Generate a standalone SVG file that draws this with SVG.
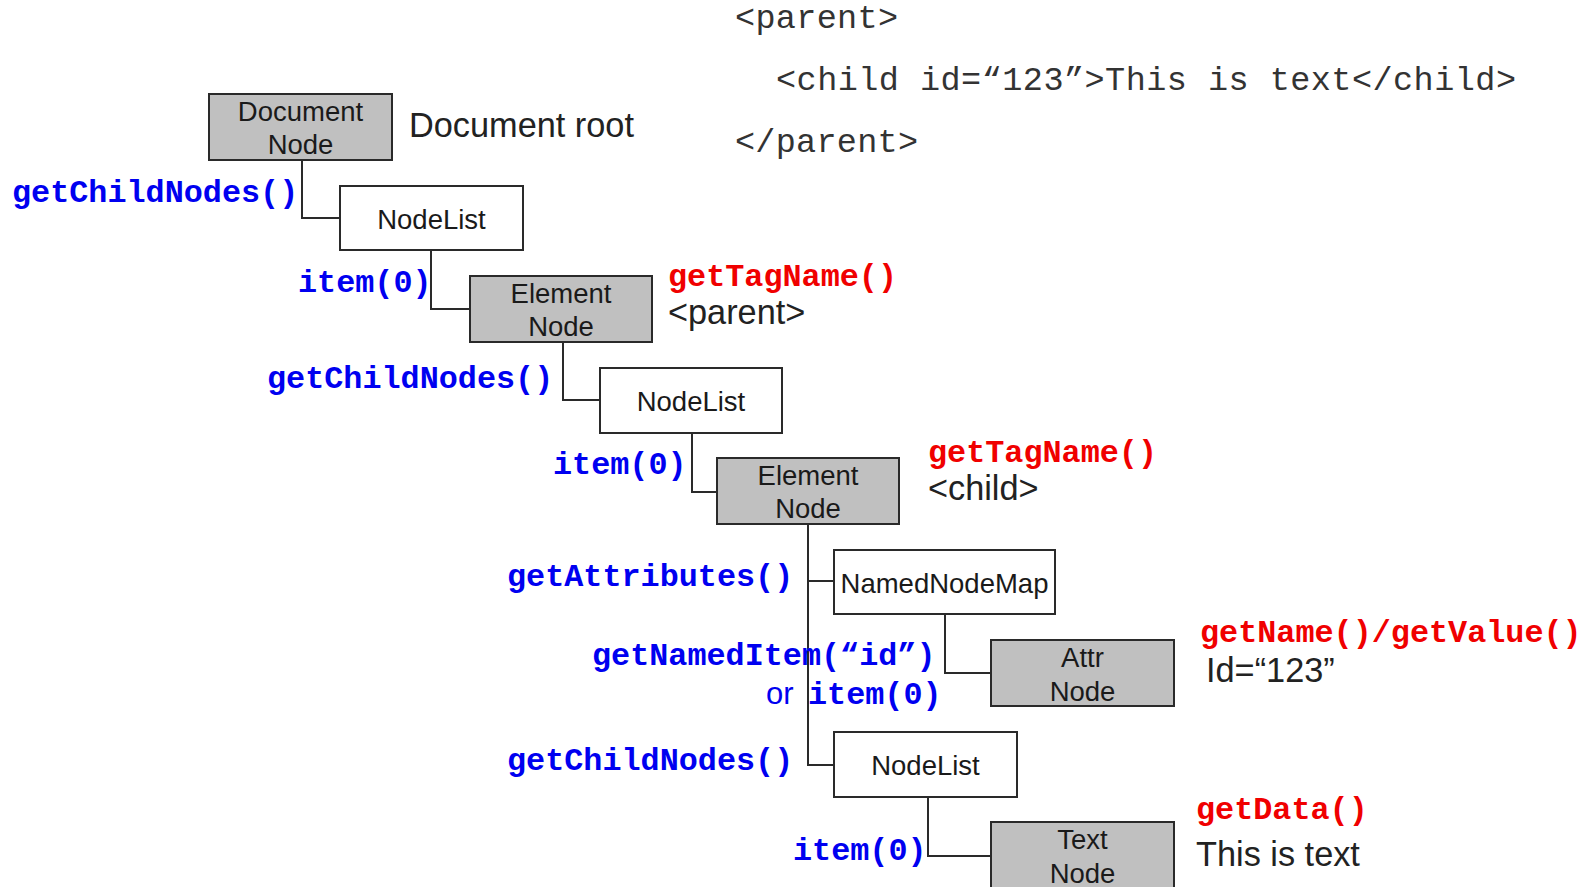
<svg xmlns="http://www.w3.org/2000/svg" width="1585" height="887" viewBox="0 0 1585 887">
  <style>
    .box { stroke: #2a2a2a; stroke-width: 2; }
    .gray { fill: #c0c0c0; }
    .white { fill: #ffffff; }
    .ntxt { font-family: "Liberation Sans", Arial, sans-serif; font-size: 27.5px; fill: #1a1a1a; text-anchor: middle; }
    .wire { fill: none; stroke: #2a2a2a; stroke-width: 2; }
    .code { font-family: "Liberation Mono", "Courier New", monospace; font-size: 33.5px; fill: #333333; }
    .call { font-family: "Liberation Mono", "Courier New", monospace; font-weight: bold; font-size: 31.8px; }
    .blue { fill: #0000f0; }
    .red { fill: #f00000; }
    .note { font-family: "Liberation Sans", Arial, sans-serif; font-size: 34.3px; fill: #222222; }
  </style>

  <rect width="1585" height="887" fill="#ffffff"/>

  <!-- XML source -->
  <g id="source">
    <text class="code" x="735" y="28" textLength="163" lengthAdjust="spacing">&lt;parent&gt;</text>
    <text class="code" x="776" y="90" textLength="740" lengthAdjust="spacing">&lt;child id=“123”&gt;This is text&lt;/child&gt;</text>
    <text class="code" x="735" y="152" textLength="183" lengthAdjust="spacing">&lt;/parent&gt;</text>
  </g>

  <!-- tree connectors -->
  <g id="connectors">
    <path class="wire" d="M302 160 V218 H340"/>
    <path class="wire" d="M431 250 V309 H470"/>
    <path class="wire" d="M563 342 V400 H600"/>
    <path class="wire" d="M692 433 V492 H717"/>
    <path class="wire" d="M808 524 V765 H834"/>
    <path class="wire" d="M808 581 H834"/>
    <path class="wire" d="M945 614 V673 H991"/>
    <path class="wire" d="M928 797 V856 H991"/>
  </g>

  <!-- nodes -->
  <g id="document-node">
    <rect class="box gray" x="209" y="94" width="183" height="66"/>
    <text class="ntxt" x="300.5" y="121">Document</text>
    <text class="ntxt" x="300.5" y="154">Node</text>
  </g>
  <g id="nodelist-1">
    <rect class="box white" x="340" y="186" width="183" height="64"/>
    <text class="ntxt" x="431.5" y="229">NodeList</text>
  </g>
  <g id="element-node-1">
    <rect class="box gray" x="470" y="276" width="182" height="66"/>
    <text class="ntxt" x="561" y="303">Element</text>
    <text class="ntxt" x="561" y="336">Node</text>
  </g>
  <g id="nodelist-2">
    <rect class="box white" x="600" y="368" width="182" height="65"/>
    <text class="ntxt" x="691" y="411">NodeList</text>
  </g>
  <g id="element-node-2">
    <rect class="box gray" x="717" y="458" width="182" height="66"/>
    <text class="ntxt" x="808" y="485">Element</text>
    <text class="ntxt" x="808" y="518">Node</text>
  </g>
  <g id="namednodemap">
    <rect class="box white" x="834" y="550" width="221" height="64"/>
    <text class="ntxt" x="944.5" y="593">NamedNodeMap</text>
  </g>
  <g id="attr-node">
    <rect class="box gray" x="991" y="640" width="183" height="66"/>
    <text class="ntxt" x="1082.5" y="667">Attr</text>
    <text class="ntxt" x="1082.5" y="701">Node</text>
  </g>
  <g id="nodelist-3">
    <rect class="box white" x="834" y="732" width="183" height="65"/>
    <text class="ntxt" x="925.5" y="775">NodeList</text>
  </g>
  <g id="text-node">
    <rect class="box gray" x="991" y="822" width="183" height="70"/>
    <text class="ntxt" x="1082.5" y="849">Text</text>
    <text class="ntxt" x="1082.5" y="883">Node</text>
  </g>

  <!-- navigation calls -->
  <g id="calls">
    <text class="call blue" x="12" y="202">getChildNodes()</text>
    <text class="call blue" x="298" y="292">item(0)</text>
    <text class="call blue" x="267" y="388">getChildNodes()</text>
    <text class="call blue" x="553" y="474">item(0)</text>
    <text class="call blue" x="507" y="586">getAttributes()</text>
    <text class="call blue" x="592" y="665">getNamedItem(“id”)</text>
    <text x="766" y="704" font-family="Liberation Sans, Arial, sans-serif" font-size="31px" fill="#0000f0">or</text>
    <text class="call blue" x="808" y="704">item(0)</text>
    <text class="call blue" x="507" y="770">getChildNodes()</text>
    <text class="call blue" x="793" y="860">item(0)</text>
  </g>

  <!-- accessors and values -->
  <g id="values">
    <text class="note" x="409" y="137">Document root</text>
    <text class="call red" x="668" y="286">getTagName()</text>
    <text class="note" x="668" y="324">&lt;parent&gt;</text>
    <text class="call red" x="928" y="462">getTagName()</text>
    <text class="note" x="928" y="500">&lt;child&gt;</text>
    <text class="call red" x="1200" y="642">getName()/getValue()</text>
    <text class="note" x="1206" y="682">Id=“123”</text>
    <text class="call red" x="1196" y="819">getData()</text>
    <text class="note" x="1196" y="866">This is text</text>
  </g>
</svg>
